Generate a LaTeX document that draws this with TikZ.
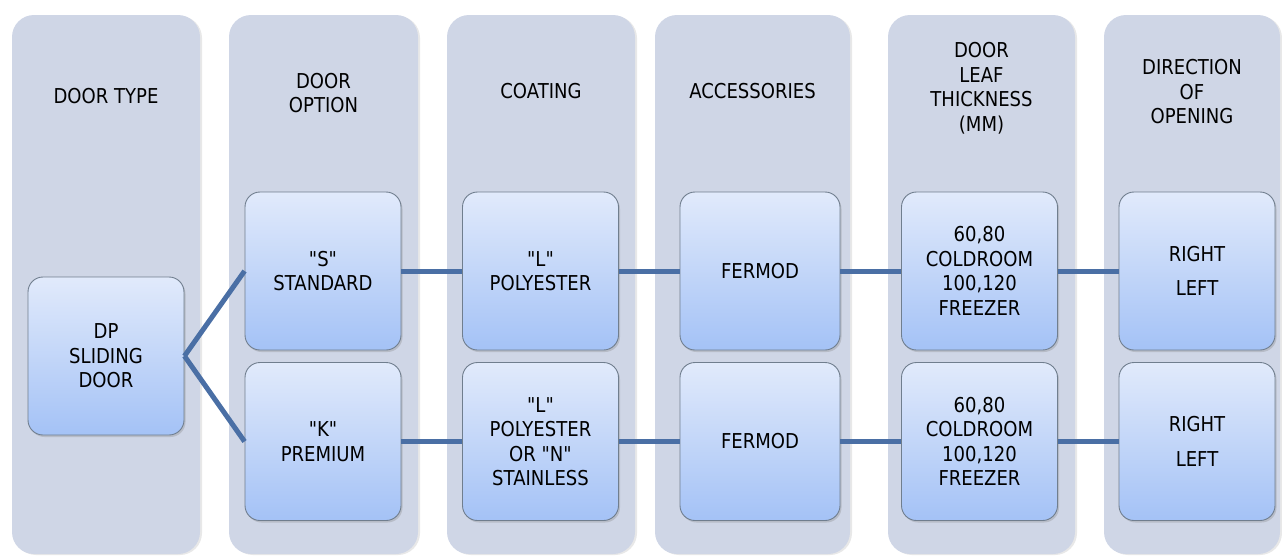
\documentclass[tikz,border=0pt]{standalone}
\usepackage{fontspec}
\setmainfont{DejaVu Sans}[FakeStretch=0.88, Ligatures=TeXOff]
\usetikzlibrary{shadows}
\definecolor{panelc}{RGB}{207,214,230}
\definecolor{boxtop}{RGB}{225,234,251}
\definecolor{boxbot}{RGB}{164,194,246}
\definecolor{boxline}{RGB}{112,126,142}
\definecolor{connc}{RGB}{74,111,165}
\begin{document}
\begin{tikzpicture}[x=1pt,y=-1pt,
  every node/.style={font=\fontsize{20.5}{24.5}\selectfont, align=center, inner sep=0pt},
  panel/.style={fill=panelc, rounded corners=22pt, minimum width=188pt, minimum height=539pt,
    drop shadow={opacity=0.18, shadow xshift=2pt, shadow yshift=-1pt}},
  item/.style={draw=boxline, line width=0.9pt, top color=boxtop, bottom color=boxbot,
    rounded corners=15pt, minimum width=156pt, minimum height=158pt,
    drop shadow={opacity=0.3, shadow xshift=1.5pt, shadow yshift=-2pt}},
  hdr/.style={},
  conn/.style={draw=connc, line width=5pt}]
\useasboundingbox (0,0) rectangle (1282,555);
% panels
\node[panel] (p1) at (106,284.5) {};
\node[panel, minimum width=189pt] (p2) at (323.5,284.5) {};
\node[panel] (p3) at (541,284.5) {};
\node[panel, minimum width=195pt] (p4) at (752.5,284.5) {};
\node[panel, minimum width=187pt] (p5) at (981.5,284.5) {};
\node[panel, minimum width=176pt] (p6) at (1192,284.5) {};
% headers
\node[hdr] (h1) at (106,96) {DOOR TYPE};
\node[hdr] (h2) at (323.5,93) {DOOR\\OPTION};
\node[hdr] (h3) at (541,91) {COATING};
\node[hdr] (h4) at (752.5,91) {ACCESSORIES};
\node[hdr] (h5) at (981.5,88) {DOOR\\LEAF\\THICKNESS\\(MM)};
\node[hdr] (h6) at (1192,92) {DIRECTION\\OF\\OPENING};
% items
\node[item] (dp) at (106,356) {DP\\SLIDING\\DOOR};
\node[item] (s) at (323,271) {"S"\\STANDARD};
\node[item] (k) at (323,441.5) {"K"\\PREMIUM};
\node[item] (l1) at (540.5,271) {"L"\\POLYESTER};
\node[item] (l2) at (540.5,441.5) {"L"\\POLYESTER\\OR "N"\\STAINLESS};
\node[item, minimum width=160pt] (f1) at (760,271) {FERMOD};
\node[item, minimum width=160pt] (f2) at (760,441.5) {FERMOD};
\node[item] (t1) at (979.5,271) {60,80\\COLDROOM\\100,120\\FREEZER};
\node[item] (t2) at (979.5,441.5) {60,80\\COLDROOM\\100,120\\FREEZER};
\node[item] (d1) at (1197,271) {RIGHT\\[10pt]LEFT};
\node[item] (d2) at (1197,441.5) {RIGHT\\[10pt]LEFT};
% connectors
\draw[conn] (dp.east) -- (s.west);
\draw[conn] (dp.east) -- (k.west);
\draw[conn] (s) -- (l1);
\draw[conn] (k) -- (l2);
\draw[conn] (l1) -- (f1);
\draw[conn] (l2) -- (f2);
\draw[conn] (f1) -- (t1);
\draw[conn] (f2) -- (t2);
\draw[conn] (t1) -- (d1);
\draw[conn] (t2) -- (d2);
\end{tikzpicture}
\end{document}
